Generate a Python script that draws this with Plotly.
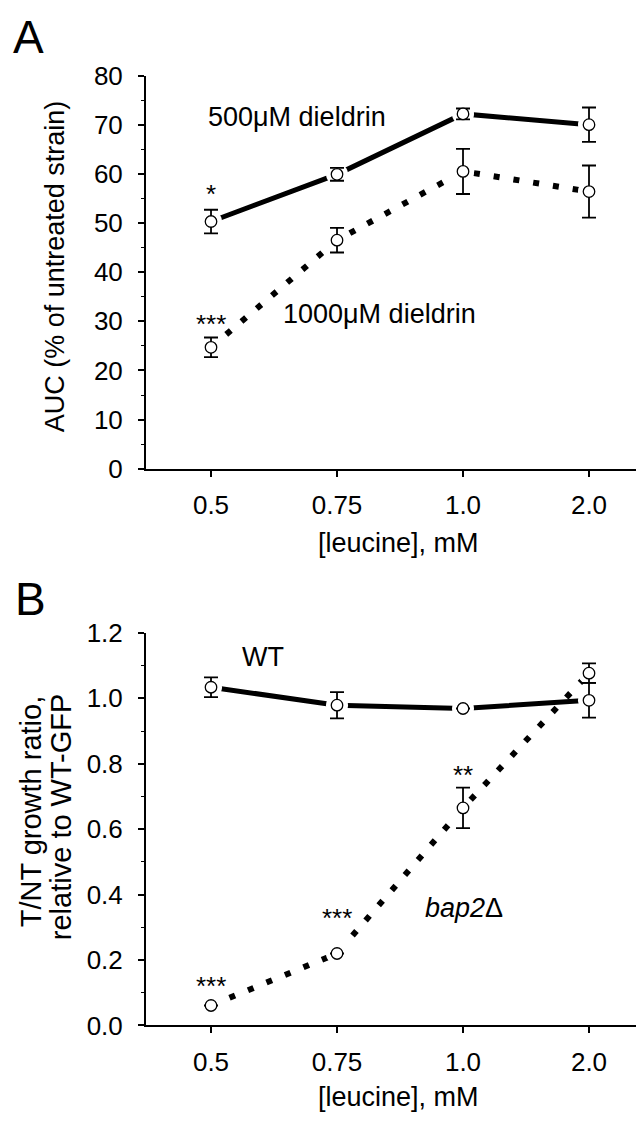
import plotly.graph_objects as go

# ---------------- data ----------------
leucine = ["0.5", "0.75", "1.0", "2.0"]

# Panel A: AUC (% of untreated strain)
auc_500 = [50.3, 59.9, 72.2, 70.0]
auc_500_err = [2.4, 1.3, 1.1, 3.5]
auc_1000 = [24.7, 46.5, 60.5, 56.4]
auc_1000_err = [2.0, 2.5, 4.6, 5.3]

# Panel B: T/NT growth ratio relative to WT-GFP
wt = [1.034, 0.979, 0.969, 0.994]
wt_err = [0.03, 0.04, 0.0, 0.053]
bap2 = [0.061, 0.220, 0.665, 1.077]
bap2_err = [0.0, 0.0, 0.062, 0.03]

# significance marks (category index, y, text)
sig_a = [(0, 56.0, "*"), (0, 29.5, "***")]
sig_b = [(0, 0.122, "***"), (1, 0.327, "***"), (2, 0.765, "**")]

FONT = "Arial, Liberation Sans, sans-serif"
W, H = 644, 1121


def px_x(p):
    return p / W


def px_y(p):
    return 1 - p / H


fig = go.Figure()


def add_panel(xa, ya, s1, s1e, s2, s2e):
    # solid line
    fig.add_trace(go.Scatter(x=leucine, y=s1, mode="lines", xaxis=xa, yaxis=ya,
                             line=dict(color="black", width=5), hoverinfo="skip"))
    # dotted line
    fig.add_trace(go.Scatter(x=leucine, y=s2, mode="lines", xaxis=xa, yaxis=ya,
                             line=dict(color="black", width=6, dash="6px,14px"),
                             hoverinfo="skip"))
    # white halos to create gaps between lines and markers
    for s in (s1, s2):
        fig.add_trace(go.Scatter(x=leucine, y=s, mode="markers", xaxis=xa, yaxis=ya,
                                 marker=dict(size=22, color="white", line=dict(width=0)),
                                 hoverinfo="skip"))
    # markers with error bars
    for s, e in ((s1, s1e), (s2, s2e)):
        fig.add_trace(go.Scatter(
            x=leucine, y=s, mode="markers", xaxis=xa, yaxis=ya,
            marker=dict(symbol="circle", size=11.5, color="white",
                        line=dict(color="black", width=1.3)),
            error_y=dict(type="data", array=e, visible=True, color="black",
                         thickness=1.8, width=7)))


add_panel("x", "y", auc_500, auc_500_err, auc_1000, auc_1000_err)
add_panel("x2", "y2", wt, wt_err, bap2, bap2_err)

xdom = [px_x(138), 1.0]
common_x = dict(type="category", range=[-0.516, 3.5], showline=True, linecolor="black",
                linewidth=2, ticks="outside", ticklen=6, tickwidth=1.6, tickcolor="black",
                showgrid=False, zeroline=False, ticklabelstandoff=6,
                tickfont=dict(family=FONT, size=26, color="black"))
common_y = dict(showline=True, linecolor="black", linewidth=2, ticks="outside",
                ticklen=6, tickwidth=1.6, tickcolor="black", showgrid=False,
                zeroline=False, ticklabelstandoff=10,
                tickfont=dict(family=FONT, size=26, color="black"))

fig.update_layout(
    width=W, height=H, margin=dict(l=0, r=0, t=0, b=0),
    paper_bgcolor="white", plot_bgcolor="white", showlegend=False,
    xaxis=dict(domain=xdom, anchor="y", **common_x),
    yaxis=dict(domain=[px_y(458), px_y(54)], anchor="x", range=[0, 80], dtick=10,
               minor=dict(dtick=5, ticks="outside", ticklen=3, tickwidth=1.4,
                          tickcolor="black", showgrid=False),
               **common_y),
    xaxis2=dict(domain=xdom, anchor="y2", **common_x),
    yaxis2=dict(domain=[px_y(1030), px_y(626.7)], anchor="x2", range=[0, 1.2],
                dtick=0.2, tickformat=".1f",
                minor=dict(dtick=0.1, ticks="outside", ticklen=3, tickwidth=1.4,
                           tickcolor="black", showgrid=False),
                **common_y),
)

ann = []


def txt(text, x, y, xref, yref, size, xanchor="center", yanchor="middle", angle=0):
    ann.append(dict(text=text, x=x, y=y, xref=xref, yref=yref, showarrow=False,
                    xanchor=xanchor, yanchor=yanchor, textangle=angle,
                    font=dict(family=FONT, size=size, color="black")))


# panel letters
txt("A", px_x(20), px_y(14), "paper", "paper", 46)
txt("B", px_x(22), px_y(592), "paper", "paper", 46)

# axis titles
txt("AUC (% of untreated strain)", px_x(47), px_y(250), "paper", "paper", 27, angle=-90)
txt("[leucine], mM", px_x(391), px_y(534), "paper", "paper", 27)
txt("T/NT growth ratio,", px_x(23), px_y(810), "paper", "paper", 29, angle=-90)
txt("relative to WT-GFP", px_x(53), px_y(816), "paper", "paper", 29, angle=-90)
txt("[leucine], mM", px_x(391), px_y(1104), "paper", "paper", 27)

# series labels
txt("500\u03bcM dieldrin", -0.04, 71.5, "x", "y", 27, xanchor="left")
txt("1000\u03bcM dieldrin", 0.556, 31.5, "x", "y", 27, xanchor="left")
txt("WT", 0.23, 1.125, "x2", "y2", 27, xanchor="left")
txt("<i>bap2</i>\u0394", 1.68, 0.36, "x2", "y2", 27, xanchor="left")

for i, yv, t in sig_a:
    txt(t, i, yv, "x", "y", 26)
for i, yv, t in sig_b:
    txt(t, i, yv, "x2", "y2", 26)

fig.update_layout(annotations=ann)
fig.write_html("out.html")
